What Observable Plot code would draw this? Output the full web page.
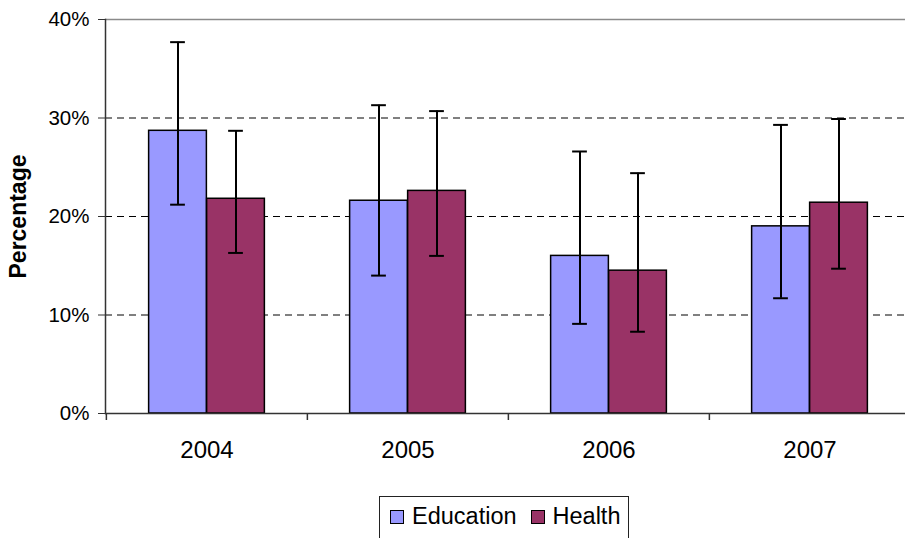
<!DOCTYPE html>
<html>
<head>
<meta charset="utf-8">
<script src="https://cdn.jsdelivr.net/npm/d3@7"></script>
<script src="https://cdn.jsdelivr.net/npm/@observablehq/plot@0.6"></script>
<style>
  html, body { margin: 0; padding: 0; background: #fff; }
  body { font-family: "Liberation Sans", Arial, sans-serif; width: 905px; height: 538px; overflow: hidden; }
  #legend {
    margin-top: 16px; margin-left: 379px; width: 250px; height: 60px;
    border: 1px solid #222; box-sizing: border-box;
    display: flex; align-items: flex-start; padding-top: 6px; padding-left: 10px;
    font-size: 23.5px; color: #000;
  }
  .item { display: flex; align-items: center; }
  .sw { width: 12px; height: 12px; border: 1.5px solid #000; margin-right: 8px; }
</style>
</head>
<body>
<div id="chart"></div>
<div id="legend"></div>
<script>
const years = ["2004", "2005", "2006", "2007"];
const education = [28.7, 21.6, 16.0, 19.0];
const educationLow = [21.2, 14.0, 9.1, 11.7];
const educationHigh = [37.7, 31.3, 26.6, 29.3];
const health = [21.8, 22.6, 14.5, 21.4];
const healthLow = [16.3, 16.0, 8.3, 14.7];
const healthHigh = [28.7, 30.7, 24.4, 29.9];
const series = ["Education", "Health"];
const colors = ["#9999FF", "#993366"];
const yTicks = [0, 10, 20, 30, 40];
const gridTicks = [10, 20, 30];

const rows = years.map((year, i) => ({
  year,
  edu: education[i], eduLo: educationLow[i], eduHi: educationHigh[i],
  hea: health[i], heaLo: healthLow[i], heaHi: healthHigh[i]
}));

const half = (910 - 105) / 4 / 2; // half band width
const barW = 58;
const cap = 7.5;
const errOff = barW / 2;

const chart = Plot.plot({
  width: 905,
  height: 480,
  marginLeft: 105,
  marginRight: 0,
  marginTop: 19,
  marginBottom: 67,
  style: { fontFamily: "Liberation Sans, Arial, sans-serif", background: "white", color: "#000", overflow: "visible" },
  x: { domain: years, range: [105, 910], padding: 0 },
  y: { domain: [0, 40], range: [413, 19] },
  marks: [
    Plot.ruleY([40], { stroke: "#8a8a8a", strokeWidth: 1.5 }),
    Plot.ruleY(gridTicks, { stroke: "#000", strokeWidth: 1, strokeDasharray: "7,5" }),
    Plot.barY(rows, { x: "year", y: "edu", fill: colors[0], stroke: "#000", strokeWidth: 1.5,
      insetLeft: half - barW, insetRight: half }),
    Plot.barY(rows, { x: "year", y: "hea", fill: colors[1], stroke: "#000", strokeWidth: 1.5,
      insetLeft: half, insetRight: half - barW }),
    // error bars
    Plot.ruleX(rows, { x: "year", y1: "eduLo", y2: "eduHi", dx: -errOff, stroke: "#000", strokeWidth: 2 }),
    Plot.ruleX(rows, { x: "year", y1: "heaLo", y2: "heaHi", dx: errOff, stroke: "#000", strokeWidth: 2 }),
    Plot.tickY(rows, { x: "year", y: "eduHi", stroke: "#000", strokeWidth: 2, insetLeft: half - errOff - cap, insetRight: half + errOff - cap }),
    Plot.tickY(rows, { x: "year", y: "eduLo", stroke: "#000", strokeWidth: 2, insetLeft: half - errOff - cap, insetRight: half + errOff - cap }),
    Plot.tickY(rows, { x: "year", y: "heaHi", stroke: "#000", strokeWidth: 2, insetLeft: half + errOff - cap, insetRight: half - errOff - cap }),
    Plot.tickY(rows, { x: "year", y: "heaLo", stroke: "#000", strokeWidth: 2, insetLeft: half + errOff - cap, insetRight: half - errOff - cap }),
    // axes
    Plot.ruleY([0], { stroke: "#333", strokeWidth: 1.5 }),
    Plot.frame({ anchor: "left", stroke: "#333", strokeWidth: 1.5 }),
    Plot.ruleX(years, { x: d => d, y1: 0, y2: 0, dx: -half, insetBottom: -7, stroke: "#333", strokeWidth: 1.5 }),
    Plot.axisY({ ticks: yTicks, tickFormat: d => d + "%", tickSize: 7, tickPadding: 9, fontSize: 20.5, label: null, stroke: "#333" }),
    Plot.axisX({ tickSize: 0, tickPadding: 27, fontSize: 24, label: null }),
    Plot.text(["Percentage"], { frameAnchor: "left", textAnchor: "middle", dx: -87, rotate: -90, fontSize: 23, fontWeight: "bold", fill: "#000" })
  ]
});
document.getElementById("chart").appendChild(chart);

const legend = document.getElementById("legend");
series.forEach((name, i) => {
  const item = document.createElement("div");
  item.className = "item";
  if (i > 0) item.style.marginLeft = "14px";
  const sw = document.createElement("span");
  sw.className = "sw";
  sw.style.background = colors[i];
  const label = document.createElement("span");
  label.textContent = name;
  item.appendChild(sw);
  item.appendChild(label);
  legend.appendChild(item);
});
</script>
</body>
</html>
